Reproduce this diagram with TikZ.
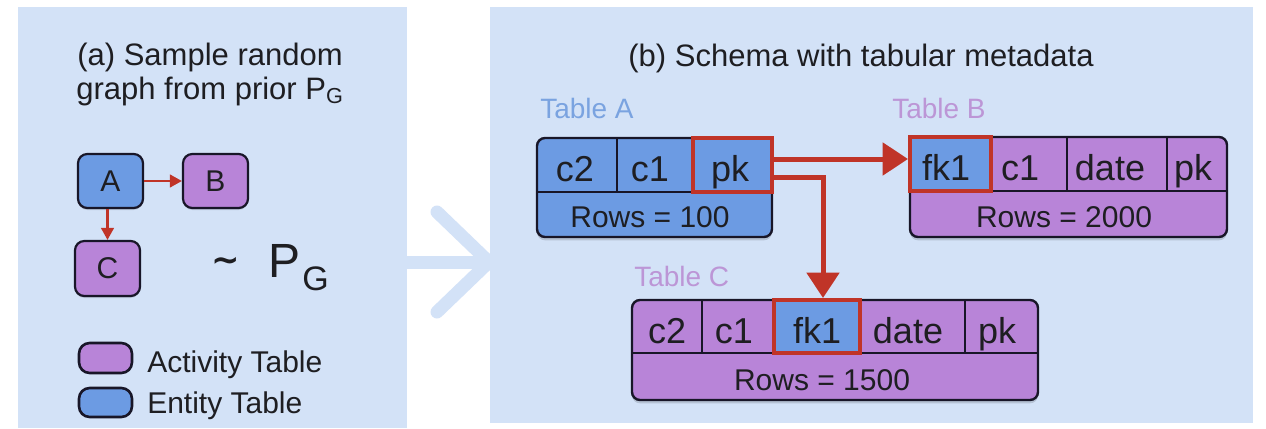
\documentclass[tikz,border=0pt]{standalone}
\usepackage{fontspec}
\setmainfont{Liberation Sans}
\newfontfamily\symfam{DejaVu Sans}
\usetikzlibrary{arrows.meta,shadows,fit}

\definecolor{panelbg}{RGB}{211,226,247}
\definecolor{entfill}{RGB}{108,155,227}
\definecolor{actfill}{RGB}{184,132,216}
\definecolor{keyred}{RGB}{192,52,40}
\definecolor{outline}{RGB}{24,22,40}
\definecolor{entlabel}{RGB}{122,163,224}
\definecolor{actlabel}{RGB}{188,150,214}
\definecolor{ink}{RGB}{30,30,34}

\newlength\pxlen
\setlength\pxlen{0.75pt}
\newcommand\fsz[1]{\fontsize{#1\pxlen}{1.2\dimexpr#1\pxlen\relax}\selectfont}

\tikzset{
  panel/.style={fill=panelbg, draw=none, inner sep=0pt},
  flowarrow/.style={draw=panelbg, line width=13\pxlen, line cap=round, line join=miter},
  title/.style={text=ink, font=\fsz{31}, inner sep=0pt},
  gnode/.style={rectangle, rounded corners=7pt, draw=outline, line width=2.2\pxlen,
    inner sep=0pt, text=ink, font=\fsz{30},
    drop shadow={shadow xshift=0pt, shadow yshift=-1.5pt, opacity=0.12, fill=black}},
  smallarrow/.style={draw=keyred, line width=2.2\pxlen,
    -{Triangle[length=9pt,width=9.5pt]}},
  legbox/.style={rectangle, rounded corners=8pt, draw=outline, line width=2.6\pxlen,
    inner sep=0pt, minimum width=53\pxlen},
  legtext/.style={text=ink, font=\fsz{30}, inner sep=0pt, anchor=base west},
  tbl/.style={rectangle, rounded corners=6pt, draw=outline, line width=2.4\pxlen,
    inner sep=0pt,
    drop shadow={shadow xshift=0pt, shadow yshift=-2.5pt, opacity=0.14, fill=black}},
  grid/.style={draw=outline, line width=2.2\pxlen},
  keybox/.style={rectangle, draw=keyred, line width=4\pxlen, inner sep=0pt, fill=entfill},
  cell/.style={text=ink, font=\fsz{36}, inner sep=0pt, anchor=base},
  rowtext/.style={text=ink, font=\fsz{30}, inner sep=0pt, anchor=base},
  tlabel/.style={font=\fsz{28}, inner sep=0pt, anchor=base west},
  fkarrow/.style={draw=keyred, line width=5\pxlen,
    -{Triangle[length=19pt,width=24pt]}},
}

\begin{document}
\begin{tikzpicture}[x=0.75pt,y=-0.75pt]
\useasboundingbox (0,0) rectangle (1266,428);
\fill[white] (0,0) rectangle (1266,428);

% ---------- the two panels ----------
\node[panel, fit={(18,7) (407,428)}] (pa) {};
\node[panel, fit={(490,7) (1253,423)}] (pb) {};

% flow arrow from panel (a) to panel (b)
\coordinate (flowy) at (0,262);
\coordinate (chevtop) at (437,212);
\coordinate (chevtip) at (489,262);
\coordinate (chevbot) at (437,312);
\draw[flowarrow, line cap=butt] (pa.east |- flowy) -- (pb.west |- flowy);
\draw[flowarrow] (chevtop) -- (chevtip) -- (chevbot);

% ---------- panel (a) ----------
\node[title, anchor=base] (ttlA1) at (210,65) {(a) Sample random};
\node[title, anchor=base] (ttlA2) at (210,99) {graph from prior P\textsubscript{G}};

\node[gnode, fill=entfill, minimum width=65\pxlen, minimum height=54\pxlen] (nA) at (110.5,181) {A};
\node[gnode, fill=actfill, minimum width=65\pxlen, minimum height=54\pxlen] (nB) at (215.5,181) {B};
\node[gnode, fill=actfill, minimum width=65\pxlen, minimum height=55\pxlen] (nC) at (107.5,268.5) {C};
\draw[smallarrow] (nA) -- (nB);
\draw[smallarrow] (nA.south -| nC.north) -- (nC.north);

\node[text=ink, font=\symfam\bfseries\fsz{34}, inner sep=0pt, anchor=base] (tilde) at (226,271) {∼};
\node[text=ink, font=\fsz{48}, inner sep=0pt, anchor=base west] (bigP) at (268,277) {P};
\node[text=ink, font=\fsz{34}, inner sep=0pt, anchor=base west] (bigG) at (302,290) {G};

\node[legbox, fill=actfill, minimum height=30\pxlen] (legAct) at (105.5,358) {};
\node[legtext] (legActT) at (147,372) {Activity Table};
\node[legbox, fill=entfill, minimum height=29\pxlen] (legEnt) at (105.5,402.5) {};
\node[legtext] (legEntT) at (147,413) {Entity Table};

% ---------- panel (b) ----------
\node[title, anchor=base] (ttlB) at (861,67) {(b) Schema with tabular metadata};

% Table A (entity)
\node[tlabel, text=entlabel] (tAlab) at (540,118) {Table A};
\node[tbl, fill=entfill, fit={(537,138) (772,237)}] (tA) {};
\draw[grid] (537,192) -- (772,192);
\draw[grid] (617,138) -- (617,192);
\node[keybox, fit={(693,138) (772,192)}] (Apk) {};
\node[cell] (Ac2) at (575,181) {c2};
\node[cell] (Ac1) at (650,181) {c1};
\node[cell] (Apkt) at (730,181) {pk};
\node[rowtext] (Arows) at (650,227) {Rows = 100};

% Table B (activity)
\node[tlabel, text=actlabel] (tBlab) at (892,118) {Table B};
\node[tbl, fill=actfill, fit={(910,137) (1227,237)}] (tB) {};
\draw[grid] (910,191) -- (1227,191);
\draw[grid] (1067,137) -- (1067,191);
\draw[grid] (1167,137) -- (1167,191);
\node[keybox, fit={(910,137) (991,191)}] (Bfk) {};
\node[cell] (Bfkt) at (946,180) {fk1};
\node[cell] (Bc1) at (1020,180) {c1};
\node[cell] (Bdate) at (1110,180) {date};
\node[cell] (Bpk) at (1193,180) {pk};
\node[rowtext] (Brows) at (1064,227) {Rows = 2000};

% Table C (activity)
\node[tlabel, text=actlabel] (tClab) at (634,286) {Table C};
\node[tbl, fill=actfill, fit={(632,300) (1038,400)}] (tC) {};
\draw[grid] (632,353) -- (1038,353);
\draw[grid] (702,300) -- (702,353);
\draw[grid] (965,300) -- (965,353);
\node[keybox, fit={(774,300) (860,353)}] (Cfk) {};
\node[cell] (Cc2) at (667,343) {c2};
\node[cell] (Cc1) at (734,343) {c1};
\node[cell] (Cfkt) at (817,343) {fk1};
\node[cell] (Cdate) at (908,343) {date};
\node[cell] (Cpk) at (997,343) {pk};
\node[rowtext] (Crows) at (822,390) {Rows = 1500};

% foreign-key references out of Table A's primary key
\coordinate (pkOutB) at ([yshift=4.5pt]Apk.east);
\coordinate (pkOutC) at ([yshift=-9pt]Apk.east);
\draw[fkarrow] (pkOutB) -- (pkOutB -| Bfk.west);
\draw[fkarrow] (pkOutC) -| ([xshift=4.5pt]Cfk.north);
\end{tikzpicture}
\end{document}
